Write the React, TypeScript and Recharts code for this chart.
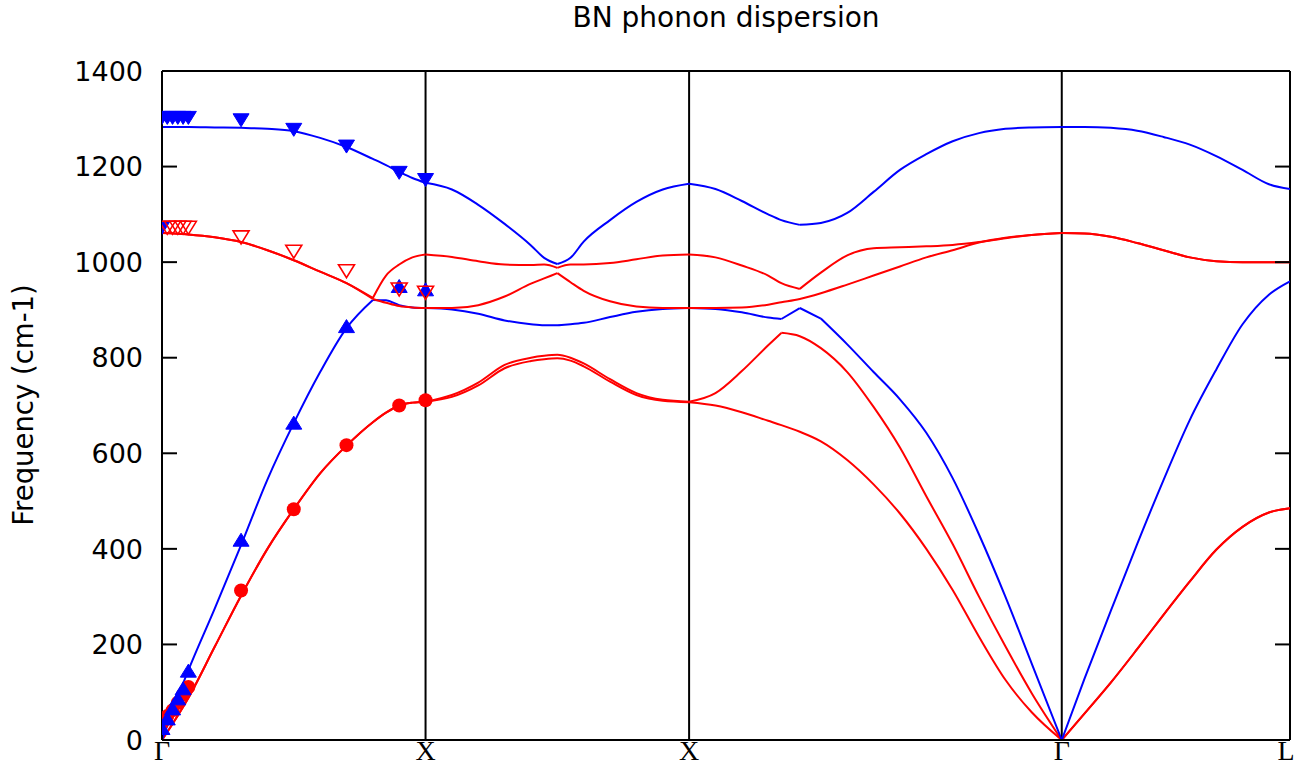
import { ComposedChart, Line, Scatter, XAxis, YAxis, ReferenceLine } from "recharts";

// wave-vector path Γ-X-X-Γ-L (Γ-X = 1)
const K = [
  0, 0.1, 0.2, 0.3, 0.4, 0.5, 0.6, 0.7, 0.8, 0.85, 0.9, 0.95, 1.0,
  1.1, 1.2, 1.3, 1.4, 1.45, 1.5, 1.55, 1.6, 1.7, 1.8, 1.9, 2.0,
  2.1, 2.2, 2.3, 2.35, 2.42, 2.5, 2.6, 2.7, 2.8, 2.9, 3.0, 3.1, 3.2, 3.3, 3.414,
  3.5, 3.6, 3.7, 3.8, 3.9, 4.0, 4.1, 4.2, 4.28,
];

const kTicks = [0, 1, 2, 3.414, 4.28];
const kLabels = ["Γ", "X", "X", "Γ", "L"];
const freqTicks = [0, 200, 400, 600, 800, 1000, 1200, 1400];

// calculated bands, sorted low -> high
const band1 = [
  0, 88, 195, 302, 400, 483, 558, 616, 665, 685, 700, 706, 708,
  718, 742, 778, 793, 797, 799, 794, 782, 750, 722, 710, 707,
  700, 686, 668, 659, 645, 625, 586, 535, 474, 400, 314, 216, 126, 58, 0,
  55, 120, 190, 262, 332, 398, 446, 476, 485,
];
const band2 = [
  0, 88, 195, 302, 400, 483, 558, 616, 665, 685, 700, 706, 708,
  722, 748, 785, 800, 804, 806, 800, 788, 755, 726, 712, 708,
  726, 772, 826, 852, 845, 820, 770, 697, 612, 510, 410, 300, 196, 98, 0,
  55, 120, 190, 262, 332, 398, 446, 476, 485,
];
const band3 = [
  0, 146, 275, 408, 545, 663, 770, 862, 921, 920, 910, 905, 904,
  901, 892, 878, 870, 868, 868, 870, 873, 885, 896, 902, 904,
  902, 895, 884, 881, 904, 882, 828, 770, 713, 643, 548, 430, 300, 160, 0,
  128, 270, 410, 544, 670, 775, 870, 932, 960,
];
const band4 = [
  1061, 1058, 1052, 1042, 1025, 1004, 980, 956, 923, 915, 908, 905, 904,
  904, 910, 928, 955, 966, 977, 958, 940, 918, 907, 904, 904,
  904, 905, 911, 916, 923, 935, 953, 972, 991, 1010, 1025, 1041, 1051, 1057, 1061,
  1060, 1053, 1040, 1025, 1010, 1002, 1000, 1000, 1000,
];
const band5 = [
  1061, 1058, 1052, 1042, 1025, 1004, 980, 956, 925, 972, 995, 1010, 1016,
  1011, 1002, 995, 994, 995, 988, 995, 995, 998, 1006, 1014, 1016,
  1010, 993, 972, 956, 944, 978, 1014, 1029, 1031, 1033, 1036, 1042, 1050, 1057, 1061,
  1060, 1053, 1040, 1025, 1010, 1002, 1000, 1000, 1000,
];
const band6 = [
  1283, 1283, 1282, 1281, 1279, 1274, 1260, 1241, 1216, 1203, 1189, 1176, 1166,
  1152, 1120, 1080, 1035, 1009, 996, 1009, 1043, 1088, 1126, 1152, 1164,
  1153, 1128, 1100, 1088, 1078, 1082, 1103, 1147, 1193, 1226, 1253, 1270, 1279, 1282, 1283,
  1283, 1281, 1275, 1262, 1246, 1222, 1193, 1163, 1153,
];

// experimental points along Γ-X
const expK = [0, 0.02, 0.04, 0.06, 0.08, 0.1, 0.3, 0.5, 0.7, 0.9, 1.0];
const expTA = [35, 50, 62, 78, 95, 111, 313, 483, 617, 700, 711];
const expLA = [22, 42, 63, 84, 105, 142, 416, 661, 863, 947, 940];
const expLO = [1305, 1305, 1305, 1305, 1305, 1305, 1300, 1280, 1245, 1190, 1175];
const expTO = [null, 1075, 1075, 1075, 1075, 1075, 1055, 1025, 984, 946, 939];
const expTOGamma = 1075;

const RED = "#ff0000";
const BLUE = "#0000ff";
const PLOT = { left: 162, right: 1290, top: 71, bottom: 740 };

// indices in K where a band has a sharp corner (curve is split there)
const bands = [
  { vals: band1, color: RED, corners: [12, 24, 39] },
  { vals: band2, color: RED, corners: [12, 24, 28, 39] },
  { vals: band3, color: BLUE, corners: [8, 12, 24, 28, 29, 30, 39] },
  { vals: band4, color: RED, corners: [8, 12, 18, 24, 39] },
  { vals: band5, color: RED, corners: [8, 12, 18, 24, 29, 39] },
  { vals: band6, color: BLUE, corners: [12, 18, 24, 29, 39] },
];

const pieces = (vals: number[], corners: number[]) => {
  const cuts = [0, ...corners, K.length - 1];
  const out: { k: number; w: number }[][] = [];
  for (let c = 0; c < cuts.length - 1; c++) {
    const seg = [];
    for (let i = cuts[c]; i <= cuts[c + 1]; i++) seg.push({ k: K[i], w: vals[i] });
    out.push(seg);
  }
  return out;
};

const toExp = (vals: (number | null)[]) =>
  expK.map((k, i) => ({ k, w: vals[i] })).filter((p) => p.w !== null);

function YTick(props: any) {
  const { y, payload } = props;
  return (
    <g>
      <line x1={PLOT.left} x2={PLOT.left + 15} y1={y} y2={y} stroke="#000" strokeWidth={2} />
      <line x1={PLOT.right - 15} x2={PLOT.right} y1={y} y2={y} stroke="#000" strokeWidth={2} />
      <text x={143} y={y} dy="0.36em" textAnchor="end" fontFamily="DejaVu Sans" fontSize={27} fill="#000">
        {payload.value}
      </text>
    </g>
  );
}

function XTick(props: any) {
  const { x, payload } = props;
  const label = kLabels[kTicks.indexOf(payload.value)];
  return (
    <text x={x} y={PLOT.bottom + 20} textAnchor="middle" fontFamily="Liberation Serif" fontSize={28} fill="#000">
      {label}
    </text>
  );
}

const downTri = (fill: string, stroke: string, open = false) => (p: any) => {
  const { cx, cy } = p;
  return (
    <polygon
      points={`${cx - 8},${cy - 5} ${cx + 8},${cy - 5} ${cx},${cy + 8}`}
      fill={open ? "none" : fill}
      stroke={stroke}
      strokeWidth={open ? 1.6 : 1}
    />
  );
};

const upTri = (p: any) => {
  const { cx, cy } = p;
  return (
    <polygon points={`${cx - 8},${cy + 5} ${cx + 8},${cy + 5} ${cx},${cy - 8}`} fill={BLUE} stroke={BLUE} strokeWidth={1} />
  );
};

const dot = (p: any) => <circle cx={p.cx} cy={p.cy} r={7} fill={RED} />;

export default function App() {
  return (
    <div style={{ position: "absolute", left: 0, top: 0, width: 1300, height: 766, background: "#fff" }}>
      <ComposedChart width={1300} height={766} margin={{ top: 71, right: 10, bottom: 0, left: 0 }}>
        <XAxis
          dataKey="k"
          type="number"
          domain={[0, 4.28]}
          allowDataOverflow
          ticks={kTicks}
          tick={<XTick />}
          tickLine={false}
          height={26}
          axisLine={{ stroke: "#000", strokeWidth: 2 }}
        />
        <YAxis
          type="number"
          domain={[0, 1400]}
          allowDataOverflow
          ticks={freqTicks}
          tick={<YTick />}
          tickLine={false}
          width={162}
          axisLine={{ stroke: "#000", strokeWidth: 2 }}
        />
        <ReferenceLine y={1400} stroke="#000" strokeWidth={2} />
        <ReferenceLine x={4.28} stroke="#000" strokeWidth={2} />
        {kTicks.slice(1, 4).map((k) => (
          <ReferenceLine key={k} x={k} stroke="#000" strokeWidth={2} />
        ))}
        {bands.flatMap((b, i) =>
          pieces(b.vals, b.corners).map((seg, j) => (
            <Line
              key={`${i}-${j}`}
              data={seg}
              dataKey="w"
              type="monotone"
              stroke={b.color}
              strokeWidth={2}
              dot={false}
              activeDot={false}
              isAnimationActive={false}
            />
          ))
        )}
        <Scatter data={toExp(expTA)} dataKey="w" shape={dot} isAnimationActive={false} />
        <Scatter data={toExp(expLA)} dataKey="w" shape={upTri} isAnimationActive={false} />
        <Scatter
          data={[...toExp(expLO), { k: 0, w: expTOGamma }]}
          dataKey="w"
          shape={downTri(BLUE, BLUE)}
          isAnimationActive={false}
        />
        <Scatter data={toExp(expTO)} dataKey="w" shape={downTri(RED, RED, true)} isAnimationActive={false} />
      </ComposedChart>
      <svg
        width={1300}
        height={766}
        style={{ position: "absolute", left: 0, top: 0, pointerEvents: "none" }}
      >
        <text x={726} y={27} textAnchor="middle" fontFamily="DejaVu Sans" fontSize={28} fill="#000">
          BN phonon dispersion
        </text>
        <text
          transform="rotate(-90)"
          x={-405}
          y={33}
          textAnchor="middle"
          fontFamily="DejaVu Sans"
          fontSize={27.5}
          fill="#000"
        >
          Frequency (cm-1)
        </text>
      </svg>
    </div>
  );
}
